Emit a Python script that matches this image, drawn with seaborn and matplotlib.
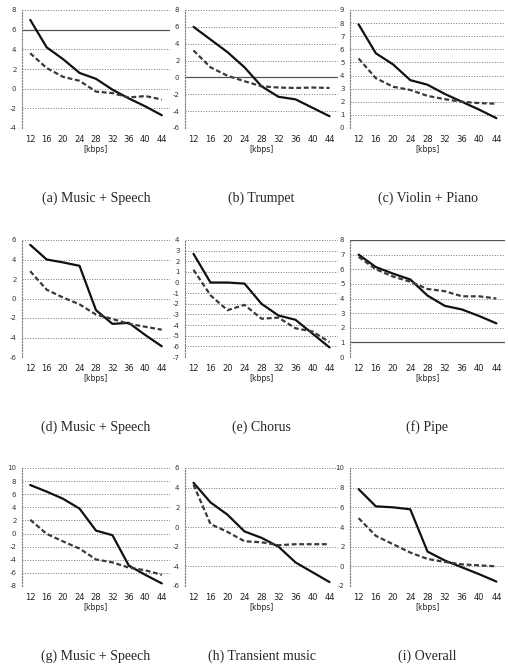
#---------------------------------------------------------------------#
# plot.py - 3x3 grid of score vs bitrate line charts
#---------------------------------------------------------------------#
import matplotlib
matplotlib.use("Agg")
import matplotlib.pyplot as plt
import seaborn as sns
import pandas as pd
import numpy as np

bitrates = [12, 16, 20, 24, 28, 32, 36, 40, 44]

captions = ["(a) Music + Speech", "(b) Trumpet", "(c) Violin + Piano",
            "(d) Music + Speech", "(e) Chorus", "(f) Pipe",
            "(g) Music + Speech", "(h) Transient music", "(i) Overall"]

# solid curve / dashed curve for every panel
a_solid = [7.0, 4.2, 3.0, 1.6, 1.0, -0.1, -1.0, -1.8, -2.7]
a_dashed = [3.6, 2.1, 1.2, 0.8, -0.3, -0.45, -0.9, -0.75, -1.1]
b_solid = [6.0, 4.5, 3.0, 1.2, -1.05, -2.3, -2.6, -3.6, -4.6]
b_dashed = [3.2, 1.2, 0.2, -0.45, -1.05, -1.2, -1.25, -1.2, -1.25]
c_solid = [7.9, 5.7, 4.85, 3.65, 3.3, 2.6, 2.0, 1.4, 0.75]
c_dashed = [5.3, 3.8, 3.15, 2.9, 2.45, 2.2, 2.0, 1.9, 1.85]
d_solid = [5.5, 4.0, 3.7, 3.35, -1.2, -2.6, -2.5, -3.75, -4.9]
d_dashed = [2.8, 0.9, 0.1, -0.6, -1.65, -2.1, -2.6, -2.9, -3.2]
e_solid = [2.7, 0.0, 0.0, -0.1, -2.0, -3.1, -3.5, -4.8, -6.1]
e_dashed = [1.2, -1.2, -2.6, -2.1, -3.4, -3.3, -4.3, -4.6, -5.6]
f_solid = [7.0, 6.15, 5.7, 5.3, 4.2, 3.5, 3.25, 2.8, 2.3]
f_dashed = [6.85, 6.0, 5.5, 5.15, 4.65, 4.5, 4.15, 4.15, 4.0]
g_solid = [7.4, 6.4, 5.3, 3.8, 0.45, -0.25, -4.9, -6.3, -7.6]
g_dashed = [2.1, -0.05, -1.2, -2.3, -3.95, -4.4, -5.2, -5.6, -6.3]
h_solid = [4.5, 2.5, 1.25, -0.45, -1.1, -2.0, -3.6, -4.6, -5.6]
h_dashed = [4.3, 0.3, -0.5, -1.45, -1.55, -1.85, -1.75, -1.75, -1.75]
i_solid = [7.85, 6.1, 6.0, 5.8, 1.5, 0.6, -0.1, -0.8, -1.55]
i_dashed = [4.9, 3.1, 2.25, 1.4, 0.75, 0.45, 0.2, 0.1, 0.0]

solids = [a_solid, b_solid, c_solid, d_solid, e_solid, f_solid, g_solid, h_solid, i_solid]
dashes_ = [a_dashed, b_dashed, c_dashed, d_dashed, e_dashed, f_dashed, g_dashed, h_dashed, i_dashed]

# y range and tick step per panel
y_ranges = [(-4, 8), (-6, 8), (0, 9), (-6, 6), (-7, 4), (0, 8), (-8, 10), (-6, 6), (-2, 10)]
y_steps = [2, 2, 1, 2, 1, 1, 2, 2, 2]
dark_grid = [[6], [0], [], [], [], [8, 1], [], [], []]

sns.set_style("white")
plt.rcParams['font.family'] = ['DejaVu Sans']

W, H = 508, 665
fig = plt.figure(figsize=(W / 100, H / 100), dpi=100)

col_box = [(22, 148), (185, 153), (350, 155)]
row_box = [(10, 118), (240, 117), (468, 118)]
caption_y = [198, 427, 656]

for k in range(9):
    r, c = divmod(k, 3)
    left, width = col_box[c]
    top, height = row_box[r]
    ax = fig.add_axes([left / W, 1 - (top + height) / H, width / W, height / H])

    df = pd.DataFrame({
        'kbps': bitrates * 2,
        'score': solids[k] + dashes_[k],
        'curve': ['solid'] * 9 + ['dashed'] * 9,
    })
    sns.lineplot(data=df, x='kbps', y='score', style='curve', hue='curve',
                 palette={'solid': '#111111', 'dashed': '#3a3a3a'},
                 dashes={'solid': '', 'dashed': (2.2, 1.2)},
                 linewidth=1.6, legend=False, ax=ax, zorder=3)

    lo, hi = y_ranges[k]
    ticks = np.arange(lo, hi + 0.01, y_steps[k])
    ax.set_ylim(lo, hi)
    ax.set_yticks(ticks)
    ax.set_yticklabels([str(int(t)) for t in ticks], fontsize=5, color='#333333')
    for t in ticks:
        ax.axhline(t, color='#777777', linestyle=':', linewidth=0.7, zorder=1)
    for t in dark_grid[k]:
        ax.axhline(t, color='#555555', linestyle='-', linewidth=0.9, zorder=2)

    ax.set_xlim(10, 46)
    ax.set_xticks(bitrates)
    ax.set_xticklabels([str(b) for b in bitrates], fontsize=6, color='#222222')
    ax.tick_params(axis='x', length=0, pad=5)
    ax.tick_params(axis='y', length=2, width=0.5, pad=2, color='#666666')
    ax.set_xlabel('[kbps]', fontsize=5.5, labelpad=1, color='#222222')
    ax.set_ylabel('')

    for s in ['top', 'right', 'bottom']:
        ax.spines[s].set_visible(False)
    ax.spines['left'].set_color('#777777')
    ax.spines['left'].set_linestyle(':')
    ax.spines['left'].set_linewidth(0.8)

    fig.text((left + width / 2) / W, 1 - caption_y[r] / H, captions[k],
             ha='center', va='center', fontsize=10, family='Liberation Serif')

fig.savefig('out.png', dpi=100)
